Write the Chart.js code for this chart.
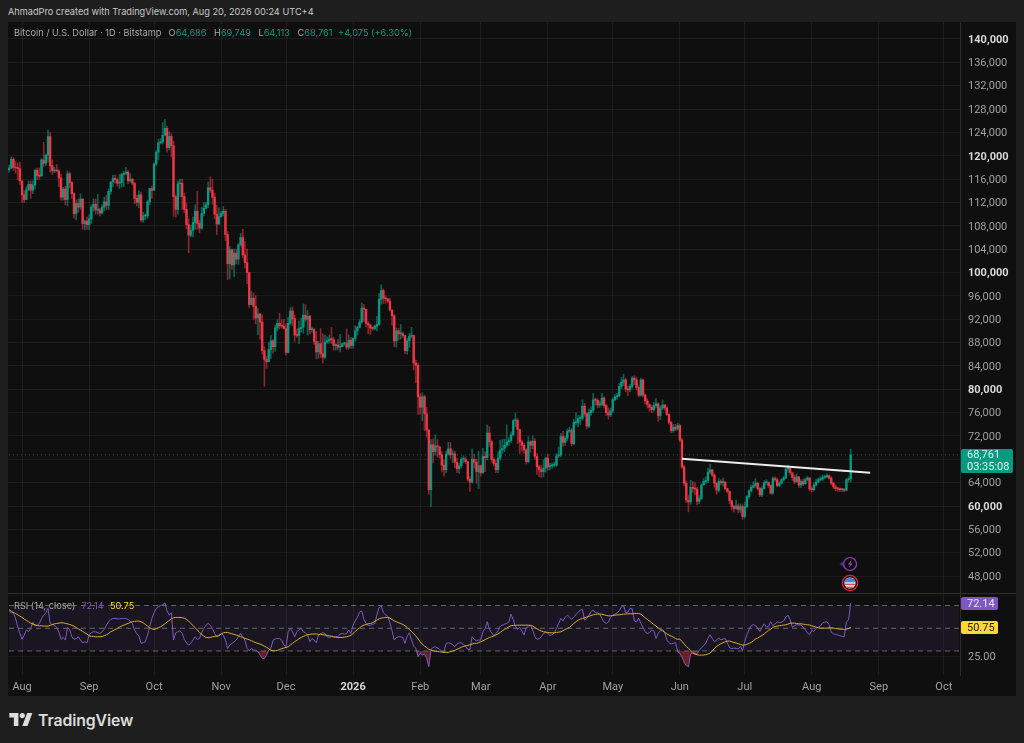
<!DOCTYPE html>
<html>
<head>
<meta charset="utf-8">
<title>Bitcoin / U.S. Dollar</title>
<script src="https://cdn.jsdelivr.net/npm/chart.js@4/dist/chart.umd.min.js"></script>
<style>
  html, body { margin: 0; padding: 0; width: 1024px; height: 743px; overflow: hidden; background: #1e1e1e; }
  body { font-family: Inter, Roboto, sans-serif; position: relative; }
  #panel { position: absolute; left: 8px; top: 22px; width: 1008px; height: 674px; background: #0f0f0f; }
  canvas { position: absolute; left: 8px; }
  #priceChart { top: 22px; }
  #rsiChart { top: 594px; }
  #sep { position: absolute; left: 8px; top: 593px; width: 1008px; height: 1px; background: #2c2c2c; }
  .txt { position: absolute; white-space: nowrap; }
  #credit { left: 8px; top: 6px; font-size: 9.2px; color: #c8c8c8; }
  #ohlc { left: 14px; top: 27px; font-size: 9.2px; color: #a8a8a8; }
  #ohlc b { font-weight: 400; color: #089981; margin-right: 3px; }
  #ohlc span { margin-left: 2px; }
  #rsiLegend { left: 14px; top: 600px; font-size: 9.2px; color: #a8a8a8; }
  #rsiLegend span { margin-left: 1px; }
  .tag { position: absolute; left: 961px; border-radius: 2px; font: 11px Roboto, sans-serif; text-align: left; padding-left: 6px; }
  #tagPrice { width: 46px; height: 24px; line-height: 12px; background: #089981; color: #e4f4f1; }
  #tagRsi { width: 31px; height: 13px; line-height: 13px; background: #7e57c2; color: #e8e2f4; }
  #tagMa { width: 31px; height: 13px; line-height: 13px; background: #fdd835; color: #222; }
  #brand { left: 38px; top: 711px; font-size: 15.8px; font-weight: 600; color: #dcdcdc; letter-spacing: -0.1px; }
</style>
</head>
<body>
<div id="panel"></div>
<canvas id="priceChart" width="1008" height="572"></canvas>
<div id="sep"></div>
<canvas id="rsiChart" width="1008" height="102"></canvas>

<div class="txt" id="credit">AhmadPro created with TradingView.com, Aug 20, 2026 00:24 UTC+4</div>
<div class="txt" id="ohlc">Bitcoin / U.S. Dollar · 1D · Bitstamp &nbsp;<span>O</span><b>64,686</b> <span>H</span><b>69,749</b> <span>L</span><b>64,113</b> <span>C</span><b>68,761</b> <b>+4,075 (+6.30%)</b></div>
<div class="txt" id="rsiLegend">RSI (14, close) &nbsp;<span style="color:#7e57c2">72.14</span> &nbsp;<span style="color:#fdd835">50.75</span></div>
<div class="tag" id="tagPrice">68,761<br>03:35:08</div>
<div class="tag" id="tagRsi">72.14</div>
<div class="tag" id="tagMa">50.75</div>

<svg style="position:absolute;left:838px;top:556px" width="22" height="16" viewBox="0 0 22 16">
  <circle cx="12" cy="8" r="6.5" fill="#0f0f0f" stroke="#9c3fc0" stroke-width="1.2"/>
  <path d="M13.5 4 L10 8.6 H12 L10.8 12 L14.4 7.4 H12.4 Z" fill="#9c3fc0"/>
  <path d="M4 5.5 L4.9 7.3 L6.8 8 L4.9 8.7 L4 10.5 L3.1 8.7 L1.2 8 L3.1 7.3 Z" fill="#4a32b0"/>
</svg>
<svg style="position:absolute;left:841px;top:574px" width="18" height="18" viewBox="0 0 18 18">
  <circle cx="9" cy="9" r="7.6" fill="#111" stroke="#e02a3a" stroke-width="1.3"/>
  <clipPath id="flagClip"><circle cx="9" cy="9" r="5.6"/></clipPath>
  <g clip-path="url(#flagClip)">
    <rect x="3" y="3" width="12" height="12" fill="#f4f4f4"/>
    <rect x="3" y="9.6" width="12" height="1.6" fill="#e04a50"/>
    <rect x="3" y="12.6" width="12" height="1.6" fill="#e04a50"/>
    <rect x="3" y="3" width="12" height="5.4" fill="#4a86d8"/>
  </g>
</svg>

<svg style="position:absolute;left:9px;top:713px" width="24" height="13" viewBox="0 0 36 20">
  <path d="M14 20H7V7H0V0h14zM28 20h-8L27.5 0h8z" fill="#dcdcdc"/><circle cx="20" cy="4" r="4" fill="#dcdcdc"/>
</svg>
<div class="txt" id="brand">TradingView</div>

<script>
// ===== Data, one line per month (Jul 26 2025 - Aug 19 2026) =====
const opens = [
  117600,117900,119400,118000,117900,117800,
  115700,113300,112500,114200,115100,114100,115000,117500,116600,116500,119300,118700,120100,123300,118300,117400,117500,117400,116200,112900,114300,112500,116900,115400,113500,110100,111800,111200,112600,108400,108800,
  108200,109200,111200,111700,110700,110700,110200,111200,112100,111500,113900,115500,116100,115900,115300,115400,116800,117000,117200,115700,116000,115300,112700,112000,113300,109000,109700,109700,112100,114400,
  114100,118600,120600,122200,122400,123500,124700,121400,123300,121700,113000,110800,115200,115300,113000,110800,108200,106400,107200,108600,110500,108400,107600,110100,111000,111600,114500,114100,112900,110000,108300,
  109600,110100,110500,106500,101500,103900,101300,103300,102300,104700,106000,103000,101700,100000,94500,95600,94200,92200,92900,91500,86600,85100,84700,86800,88300,87300,90500,91300,90900,90800,
  90400,86300,91300,93400,92100,89300,89200,90400,90600,92700,92000,92500,90200,90200,88200,86400,87800,86100,85500,88100,88300,88600,88500,87500,87600,87200,87300,87800,87800,87200,88400,
  87500,88700,90000,90600,91500,93900,93700,91300,91000,90500,90400,90800,91100,95400,96900,95600,95500,95100,93600,92600,88300,90000,89500,89500,89200,86600,88300,89100,89200,84500,84100,
  78700,76900,78700,75800,73000,62800,70500,69300,70300,70100,68800,67000,66200,68900,69800,68800,68900,67500,66400,66900,68000,68000,67600,64600,64100,68000,67500,65900,
  66900,65700,68500,68300,72500,71000,68000,67300,66200,68200,69600,69900,70400,71000,71200,72200,74600,74700,73100,71000,70400,69600,67600,71000,70400,71100,68500,66700,66200,65900,66500,
  68200,66700,66900,67000,67000,68600,68700,71900,70900,71600,72800,73000,70700,74300,74300,75000,75000,77100,75800,73700,76000,76400,78200,78100,77300,77400,78500,77200,76000,75600,
  76300,78200,78700,78900,80500,81200,81600,80000,79900,80500,81900,81600,80300,79000,81600,79000,78000,77400,76900,76500,77200,77500,75500,76800,77300,76800,75700,74300,72900,73500,73200,
  73800,71300,66700,63900,61000,60700,63200,63000,62900,60800,61300,63600,64200,64400,65800,66200,65300,63900,62700,64200,64000,64100,63000,62500,60900,59900,59600,60000,59400,59900,
  58200,59900,61600,62600,63200,63500,63900,63000,61900,63000,64000,64000,63500,62200,64700,64500,63500,63900,64500,64800,66300,66500,65700,64900,64200,65000,63600,64200,63800,64500,64800,
  62900,62800,63600,64100,64500,64600,64900,65000,65200,64800,63900,63300,63000,62900,62800,62800,62700,64500,64686
];
const closes = [
  117900,119400,118000,117900,117800,115700,
  113300,112500,114200,115100,114100,115000,117500,116600,116500,119300,118700,120100,123300,118300,117400,117500,117400,116200,112900,114300,112500,116900,115400,113500,110100,111800,111200,112600,108400,108800,108200,
  109200,111200,111700,110700,110700,110200,111200,112100,111500,113900,115500,116100,115900,115300,115400,116800,117000,117200,115700,116000,115300,112700,112000,113300,109000,109700,109700,112100,114400,114100,
  118600,120600,122200,122400,123500,124700,121400,123300,121700,113000,110800,115200,115300,113000,110800,108200,106400,107200,108600,110500,108400,107600,110100,111000,111600,114500,114100,112900,110000,108300,109600,
  110100,110500,106500,101500,103900,101300,103300,102300,104700,106000,103000,101700,100000,94500,95600,94200,92200,92900,91500,86600,85100,84700,86800,88300,87300,90500,91300,90900,90800,90400,
  86300,91300,93400,92100,89300,89200,90400,90600,92700,92000,92500,90200,90200,88200,86400,87800,86100,85500,88100,88300,88600,88500,87500,87600,87200,87300,87800,87800,87200,88400,87500,
  88700,90000,90600,91500,93900,93700,91300,91000,90500,90400,90800,91100,95400,96900,95600,95500,95100,93600,92600,88300,90000,89500,89500,89200,86600,88300,89100,89200,84500,84100,78700,
  76900,78700,75800,73000,62800,70500,69300,70300,70100,68800,67000,66200,68900,69800,68800,68900,67500,66400,66900,68000,68000,67600,64600,64100,68000,67500,65900,66900,
  65700,68500,68300,72500,71000,68000,67300,66200,68200,69600,69900,70400,71000,71200,72200,74600,74700,73100,71000,70400,69600,67600,71000,70400,71100,68500,66700,66200,65900,66500,68200,
  66700,66900,67000,67000,68600,68700,71900,70900,71600,72800,73000,70700,74300,74300,75000,75000,77100,75800,73700,76000,76400,78200,78100,77300,77400,78500,77200,76000,75600,76300,
  78200,78700,78900,80500,81200,81600,80000,79900,80500,81900,81600,80300,79000,81600,79000,78000,77400,76900,76500,77200,77500,75500,76800,77300,76800,75700,74300,72900,73500,73200,73800,
  71300,66700,63900,61000,60700,63200,63000,62900,60800,61300,63600,64200,64400,65800,66200,65300,63900,62700,64200,64000,64100,63000,62500,60900,59900,59600,60000,59400,59900,58200,
  59900,61600,62600,63200,63500,63900,63000,61900,63000,64000,64000,63500,62200,64700,64500,63500,63900,64500,64800,66300,66500,65700,64900,64200,65000,63600,64200,63800,64500,64800,62900,
  62800,63600,64100,64500,64600,64900,65000,65200,64800,63900,63300,63000,62900,62800,62800,62700,64500,64686,68761
];
const highs = [
  118400,119800,119700,119000,118800,118900,
  114000,114000,114700,115700,115700,115700,117700,117900,117900,119500,122300,120300,124400,124000,119300,118000,118500,117600,116800,114600,114800,117400,117200,115600,113700,112400,112600,113500,112600,109000,109500,
  109900,111600,112600,112600,113400,111000,111600,112900,113200,114300,115600,116700,116700,116100,116800,117000,117300,118000,117500,116900,116100,115400,113200,114000,113800,110300,110000,112400,114400,114800,
  118800,120900,122800,122900,125700,126200,125100,124100,123800,122500,113300,115700,116000,116000,113600,111900,109200,108100,109500,111600,113900,108900,111200,112000,112000,115500,116400,116000,113600,111500,111100,
  110500,111300,110800,107000,104500,104000,104000,104000,105000,106700,107400,105300,104000,99000,96800,96500,96000,93800,93000,92800,87300,85600,88000,89200,88500,91000,91900,93000,91900,92000,
  91200,92300,94000,94100,92700,90300,91700,92200,94600,94500,93500,92700,90700,90500,89900,88200,90400,89500,89300,89000,89300,90600,88900,87800,88500,89400,87900,88000,90300,89300,88900,
  88800,90900,90800,91900,94800,94500,93600,91600,91100,90700,91000,92500,96400,97900,97200,96000,95500,95600,93200,92800,90500,90400,91100,89800,89200,88700,89600,90600,89300,85000,84500,
  79200,79400,79000,76900,73100,71400,71500,72200,71400,70300,69300,67900,69400,70900,70900,69600,69400,68200,67300,68300,68600,68400,67600,65000,69800,68900,68000,69400,
  67000,69900,69300,73900,73600,71300,68300,67900,69300,71300,71400,71500,73900,71700,72700,74800,75900,75000,73200,71300,70800,69800,71900,71200,72000,71500,69000,67000,67000,67900,68400,
  68900,67300,67400,67500,69000,70100,72400,72800,72000,73200,73500,73300,74800,76000,75500,75500,78200,77600,76000,76600,77000,79300,78500,78400,78000,79300,78700,77400,76800,76800,
  78500,79100,79300,81000,82000,82600,81900,80500,80900,82200,82300,82000,80600,81900,81700,79200,78400,77500,77200,77700,78400,77700,77200,78200,77400,77000,75800,74500,74000,74000,74200,
  74000,71600,67000,64300,61800,64400,64200,64000,63200,61800,63800,64700,65000,66500,67200,66300,65500,64000,64700,64500,64800,64200,63000,62600,61000,60100,61000,60300,60400,60200,
  60700,61800,62800,63600,64200,64700,64100,63200,63400,64300,64500,64200,63600,65000,65000,64800,64200,64700,65100,66500,67000,66500,65400,65300,65500,65000,64500,64600,64800,65100,64900,
  63300,64000,64600,64800,65000,65300,65300,65500,65300,65000,64100,63600,63200,63100,63000,63000,64700,65000,69749
];
const lows = [
  117200,117800,117500,117000,115900,115100,
  112000,112000,112700,114000,112700,113500,114300,115900,116000,116600,118100,118300,118900,117200,116800,117100,117200,114700,112400,112400,111600,111400,114500,112700,109300,109000,110300,110800,107400,107300,107400,
  107300,108400,110500,110000,110000,109700,110000,110600,110800,110800,113400,114700,115300,114800,114400,114600,114700,116700,115200,115500,115000,111800,111400,111100,108700,108600,109100,109300,111600,112700,
  114000,118300,119300,122000,122000,123900,120600,121000,119800,109600,109500,110000,113000,110800,110200,107500,103400,106100,106100,107400,107400,106800,107400,109700,110900,111100,113700,111700,109200,106500,108300,
  109500,109700,105500,98800,98900,100500,99300,101500,101400,104500,102500,100800,98100,94000,94500,92000,91200,89300,88600,86000,80500,83600,84700,85300,86200,86500,90000,90300,90500,90300,
  85800,86200,91000,90900,88200,88900,87800,89800,89600,91600,89300,89500,89800,87700,85200,85300,85400,84500,85200,87900,87900,87800,86700,86700,86800,86400,87300,87500,86800,86900,87000,
  87100,88300,89300,90500,91300,91600,90700,89500,89400,90100,90200,90000,91000,94600,94700,94700,94900,93400,91000,87300,87200,88400,88600,88900,86100,86000,87200,88800,83300,81100,75700,
  75700,74600,72900,71800,62000,59900,67400,68700,68400,68200,65800,65100,65700,68700,68200,67400,66600,65700,65600,66500,67400,67300,64300,62500,63900,66500,63900,63000,
  65100,65600,65900,67900,70200,67500,66900,65700,65700,67900,69000,69300,70100,70400,70900,72000,73600,70700,69000,69400,69000,67200,67400,69200,69800,68000,65400,65000,64900,65000,65800,
  66100,66200,66500,66700,66800,68300,68400,70200,70400,71200,72600,70300,70500,73900,73600,74000,74700,75400,73200,73400,75500,76000,77300,76800,76900,77200,76800,75500,74900,75300,
  76000,78000,78300,78700,80100,80600,79600,78900,79600,80200,80800,79900,78700,78800,78700,77500,76800,76200,76000,76200,76800,74500,74800,76500,76400,75500,74000,72500,72600,72900,73000,
  71000,66400,63500,60600,59000,60300,62300,61900,60200,60400,61100,63600,63800,64000,65500,65000,63200,62000,62400,63600,63400,62800,62200,60400,59300,59000,59400,58800,58900,57700,
  57900,59700,61300,62400,63100,63200,62700,61600,61600,62900,63700,63200,62000,62000,64200,63300,63300,63700,64300,64700,65800,65400,64400,63800,64000,63200,63200,63500,63700,64300,62600,
  62400,62600,63400,64000,64300,64300,64700,64800,64600,63600,63000,62600,62500,62500,62500,62400,62600,64100,64113
];
const rsiValues = [
  65.3,63.6,63.6,58.6,51.3,45.4,
  40.2,44,48.5,47,50,55.2,52,52.7,54.2,58.6,61.5,63.6,67.4,54.2,53,52.7,50.7,46.9,40.2,42,39.6,50.7,49,42.5,40.2,41,42.5,39.6,37.2,38.1,37.2,
  44,46.3,46.9,46.9,46,45.4,46.9,49,52.7,55.7,57.7,58.6,58.6,58.3,58.3,58.6,58.6,58.6,57.7,56.5,54.2,48.4,45.4,43.1,36.7,37.2,38.1,44,51.3,58.6,
  63.6,67.4,68.8,70,70.6,72.3,65.3,61.5,63.6,39.6,46,46.9,47.8,45.4,40.2,37.2,35.2,36.7,39.6,42.5,40.2,41,46,49.8,52.7,54.2,52.7,49.8,45.4,42.5,44,
  45.4,44,39.6,32.3,35.2,36.7,38.1,39.6,42.5,45.4,42.5,39.6,32.3,30.2,32.3,30.8,30.8,29.4,26.4,23.5,23.5,26.4,30.8,32.3,39.6,40.5,41,41,39.6,35.2,
  33.7,46.9,49.8,46.9,42.5,46.9,48.9,49.8,46.9,46,44,38.1,41,39.6,37.2,44,45.4,46,45.4,42.5,41.9,42.5,42.5,42.5,42.5,44.9,45.4,44.9,45.4,48.4,45.4,
  52.7,56.5,59.5,64.2,65.3,57.7,54.2,52.2,52.7,53.3,54.2,61.5,68.2,70,63.6,61.9,60.7,54.9,47.8,39.6,41.7,42.5,42.5,41.9,36.7,43.1,46,39.6,34.3,32.3,25,
  27.9,26.4,27.3,23.5,16.2,31.4,33.2,33.7,32.6,31.4,29.9,29,36.7,37.2,36.7,35.5,33.7,36.1,37.2,37.2,35.5,34.3,31.4,31.4,42.5,40.2,39,39.6,
  39.6,46.9,49.8,55.7,49,46,43.7,45.4,47.8,51.9,52.7,53.6,54.2,55.7,62.4,57.7,51.9,48.9,50.7,47.8,44,50.7,51.3,52.7,48.4,42.5,40.2,40.8,42.5,45.4,46.9,
  45.4,43.7,44.3,46,49.8,54.2,58.6,56.5,59.5,61.5,60,57.7,60,61.8,64.2,65.9,66.5,57.1,58.6,61.5,64.7,65.9,63.6,63.6,62.4,58.6,55.4,54.2,55.4,59.5,
  61.5,62.4,63.6,65.3,68.8,70,63.6,64.2,67.4,67.1,56.5,55.4,58.9,54.2,50.7,46.9,45.4,46,48.4,47.8,41,45.4,47.8,48.9,46.9,39.6,37.3,36.1,36.7,37.3,29.4,
  27.9,24.7,20,17.1,16.2,27.6,28.2,26.7,27.6,30.5,32.9,34.6,37,41,44.3,41,38.1,39.8,41.3,39.8,40.4,41,36.9,32.9,32,32.6,32.3,31.7,34,30.5,
  38.4,44.3,48.7,52.2,53.3,52.2,50.1,47.2,51,53.9,51,51.6,55.7,52.2,53.9,55.4,55.1,55.4,56.3,59.8,61.5,57.4,51,52.2,53.3,52.8,52.8,51,48.7,45.7,44.3,
  48.1,47.2,49.8,51,52.2,54.5,55.4,55.7,53.3,46.3,45.1,44.6,44,43.4,42.8,42.5,55.7,57.4,72.14
];
const rsiMaValues = [
  66.2,65,63.8,63,61.8,60.6,
  59.5,58,56.8,55.7,54.5,53.6,53,52.5,52.2,52.2,51.9,51.9,51.9,52.5,53.3,53.9,54.2,54.5,54.8,54.8,54.2,53.9,53.3,52.7,51.9,50.7,49.5,48.4,47.2,46,44.9,
  43.4,42.8,42.8,42.5,42.5,42.5,42.8,43.4,44.3,45.4,46.9,47.8,48.9,49.8,51,51.9,52.7,53.6,54.2,55.1,55.7,56,56.3,56.3,55.7,54.8,53.3,51.9,50.4,49.5,
  48.9,49.5,50.4,51.3,52.5,53.9,55.4,56.8,58.3,59.2,59.5,59.5,59.5,59.2,58.9,57.7,56.3,54.2,52.5,50.4,48.4,46.3,44.6,43.1,41.9,41.6,41.9,42.5,42.8,43.1,43.4,
  44.9,46,46.3,46.3,45.7,45.1,44.6,44,43.4,42.5,41.9,41,40.5,39.9,39,38.1,37.3,36.7,36.1,35.2,34.3,33.2,32,30.8,30.2,30.2,30.5,31.4,32,32.6,
  33.2,33.7,35.2,36.7,38.1,39.3,40.8,41.9,42.8,43.7,44.3,44.6,44.9,44.9,44.9,44.6,44.6,44.3,44,43.7,43.4,43.1,42.5,42.2,41.9,41.9,41.9,42.2,42.5,43.1,43.7,
  45.4,47.2,48.9,50.4,51.9,52.7,53.3,53.9,54.2,54.8,56,57.1,58.3,58.9,59.2,59.5,59.5,58.9,57.7,56.5,55.7,54.8,54.2,53.3,52.2,50.7,48.9,47.2,45.1,43.1,40.8,
  38.1,36.1,34.3,32.9,31.4,30.8,30.2,29.9,29.6,29.4,29,28.8,28.8,28.8,29.4,29.9,30.5,31.4,32.3,33.2,34,34.6,34.9,35.5,36.1,36.7,36.7,37.3,
  38.1,39,39.9,41,41.9,42.5,43.1,44,45.1,46.3,47.8,48.9,50.1,51.3,52.2,52.5,52.5,52.7,52.7,52.7,52.7,52.7,52.7,52.5,51.9,50.7,49.5,48.4,47.5,46.9,46.6,
  46.3,46,46,46,46.3,46.6,46.9,47.8,48.9,49.8,50.7,52.5,54.2,55.7,57.1,58,58.6,59.2,59.8,60.4,61.2,61.8,62.1,62.4,62.4,62.4,61.8,61.2,60.9,60.9,
  61.2,61.5,61.8,61.8,62.1,62.4,62.4,62.7,62.7,62.7,63,63,63,62.4,60.9,59.2,57.7,56.3,54.8,53.3,51.9,50.4,48.9,47.8,46.3,45.1,44,43.1,42.2,41,40.2,
  40.5,38.4,36.1,34,32.3,30.5,28.8,27.6,26.7,26.4,26.4,26.4,26.7,27.3,28.2,29.9,32.3,34,35.2,36.4,37.3,38.1,38.7,38.7,38.1,37.5,37,36.4,35.8,35.2,
  35.2,35.8,36.7,37.5,39,40.5,41.3,42.5,43.7,44.9,46.6,48.1,49.2,50.7,51.6,51.9,52.2,52.5,52.8,53,53.6,54.5,54.5,54.5,54.2,53.9,53.9,53.6,53.3,53,52.8,
  52.2,51.6,51,50.4,50.1,50.1,50.1,50.1,50.4,50.4,50.1,49.8,49.5,49.2,49.2,48.9,49.2,49.8,50.75
];

const priceTicks = [48000,52000,56000,60000,64000,68000,72000,76000,80000,84000,88000,92000,96000,100000,104000,108000,112000,116000,120000,124000,128000,132000,136000,140000];
const boldPrices = [60000,80000,100000,120000,140000];
const rsiTicks = [25];
const monthDays = ["2025-08-01","2025-09-01","2025-10-01","2025-11-01","2025-12-01","2026-01-01","2026-02-01","2026-03-01","2026-04-01","2026-05-01","2026-06-01","2026-07-01","2026-08-01","2026-09-01","2026-10-01"];
const monthNames = ["Aug","Sep","Oct","Nov","Dec","2026","Feb","Mar","Apr","May","Jun","Jul","Aug","Sep","Oct"];
const trendDays = ["2026-06-02","2026-08-28"];
const trendValues = [68100,65700];
const lastPrice = 68761;
const lastRsi = 72.14;
const lastMa = 50.75;
const rsiLevels = [70,50,30];

// ===== Daily category axis, runs on past the last candle to mid Oct =====
const days = [];
for (let i = 0; i < 440; i++) {
  days.push(new Date(Date.UTC(2025, 6, 26 + i)).toISOString().slice(0, 10));
}
const firstDay = days[0];
const lastDay = days[days.length - 1];

const UP = "#089981";
const DOWN = "#f23645";
const GRID = "rgba(255,255,255,0.055)";
const AXIS_W = 56;

function isUp(i) { return closes[i] >= opens[i]; }
function isBold(c) { return !!c.tick && boldPrices.includes(c.tick.value); }

// Shared x scale, ticks only on the first of each month
function xScale(showLabels) {
  return {
    type: "category",
    offset: true,
    border: { display: false },
    grid: { color: GRID, offset: false, drawTicks: false },
    afterBuildTicks: (s) => { s.ticks = monthDays.map((d) => ({ value: days.indexOf(d) })); },
    afterFit: (s) => {
      s.paddingLeft = 0; s.paddingRight = 0;
      s.height = showLabels ? 21 : 0;
    },
    ticks: {
      display: showLabels,
      autoSkip: false,
      maxRotation: 0,
      padding: 6,
      color: (c) => (c.index === 5 ? "#d8d8d8" : "#a0a0a0"),
      font: (c) => ({ family: "Roboto", size: 11, weight: c.index === 5 ? "bold" : "normal" }),
      callback: (v, i) => monthNames[i]
    }
  };
}

function fitY(s) {
  s.width = AXIS_W;
  s.paddingTop = 0; s.paddingBottom = 0;
}

// ===== Price pane: candles as floating bars =====
const priceChart = new Chart(document.getElementById("priceChart"), {
  type: "bar",
  data: {
    labels: days,
    datasets: [
      {
        type: "line",
        order: 0,
        data: trendDays.map((d, i) => ({ x: d, y: trendValues[i] })),
        borderColor: "#ececec",
        borderWidth: 1.8,
        pointRadius: 0
      },
      {
        order: 1,
        grouped: false,
        barThickness: 1.7,
        minBarLength: 1,
        data: opens.map((o, i) => [o, closes[i]]),
        backgroundColor: opens.map((o, i) => (isUp(i) ? UP : DOWN))
      },
      {
        order: 2,
        grouped: false,
        barThickness: 1,
        data: lows.map((l, i) => [l, highs[i]]),
        backgroundColor: opens.map((o, i) => (isUp(i) ? "rgba(8,153,129,0.6)" : "rgba(242,54,69,0.55)"))
      },
      {
        type: "line",
        order: 3,
        data: [{ x: firstDay, y: lastPrice }, { x: lastDay, y: lastPrice }],
        borderColor: "rgba(8,153,129,0.6)",
        borderWidth: 1,
        borderDash: [1, 3],
        pointRadius: 0
      }
    ]
  },
  options: {
    responsive: false,
    animation: false,
    events: [],
    layout: { padding: 0 },
    plugins: { legend: { display: false }, tooltip: { enabled: false } },
    scales: {
      x: xScale(false),
      y: {
        position: "right",
        min: 44928,
        max: 142912,
        border: { display: true, color: "#2c2c2c" },
        grid: { color: GRID, drawTicks: false },
        afterBuildTicks: (s) => { s.ticks = priceTicks.map((value) => ({ value })); },
        afterFit: fitY,
        ticks: {
          padding: 8,
          labelOffset: 1,
          color: (c) => (isBold(c) ? "#d8d8d8" : "#a0a0a0"),
          font: (c) => ({ family: "Roboto", size: 11, weight: isBold(c) ? "bold" : "normal" }),
          callback: (v) => v.toLocaleString("en-US")
        }
      }
    }
  }
});

// ===== RSI pane =====
function levelLine(level) {
  return {
    data: [{ x: firstDay, y: level }, { x: lastDay, y: level }],
    borderColor: "rgba(170,170,170,0.55)",
    borderWidth: 1,
    borderDash: [5, 4],
    pointRadius: 0,
    fill: false
  };
}

const rsiChart = new Chart(document.getElementById("rsiChart"), {
  type: "line",
  data: {
    labels: days,
    datasets: [
      {
        data: rsiMaValues,
        borderColor: "#d9ad2c",
        borderWidth: 1,
        pointRadius: 0
      },
      {
        data: rsiValues,
        borderColor: "#7e57c2",
        borderWidth: 1,
        pointRadius: 0,
        fill: { target: { value: 30 }, above: "rgba(0,0,0,0)", below: "rgba(242,54,69,0.4)" }
      },
      levelLine(rsiLevels[1]),
      Object.assign(levelLine(rsiLevels[0]), { fill: "+1", backgroundColor: "rgba(126,87,194,0.1)" }),
      levelLine(rsiLevels[2])
    ]
  },
  options: {
    responsive: false,
    animation: false,
    events: [],
    layout: { padding: 0 },
    plugins: { legend: { display: false }, tooltip: { enabled: false } },
    scales: {
      x: xScale(true),
      y: {
        position: "right",
        min: 8.9,
        max: 80.1,
        border: { display: true, color: "#2c2c2c" },
        grid: { color: GRID, drawTicks: false },
        afterBuildTicks: (s) => { s.ticks = rsiTicks.map((value) => ({ value })); },
        afterFit: fitY,
        ticks: {
          padding: 8,
          labelOffset: 1,
          color: "#a0a0a0",
          font: { family: "Roboto", size: 11 },
          callback: (v) => v.toFixed(2)
        }
      }
    }
  }
});

// ===== Price tags follow the scales =====
document.getElementById("tagPrice").style.top = (22 + priceChart.scales.y.getPixelForValue(lastPrice) - 6) + "px";
document.getElementById("tagRsi").style.top = (594 + rsiChart.scales.y.getPixelForValue(lastRsi) - 6.5) + "px";
document.getElementById("tagMa").style.top = (594 + rsiChart.scales.y.getPixelForValue(lastMa) - 6.5) + "px";
</script>
</body>
</html>
